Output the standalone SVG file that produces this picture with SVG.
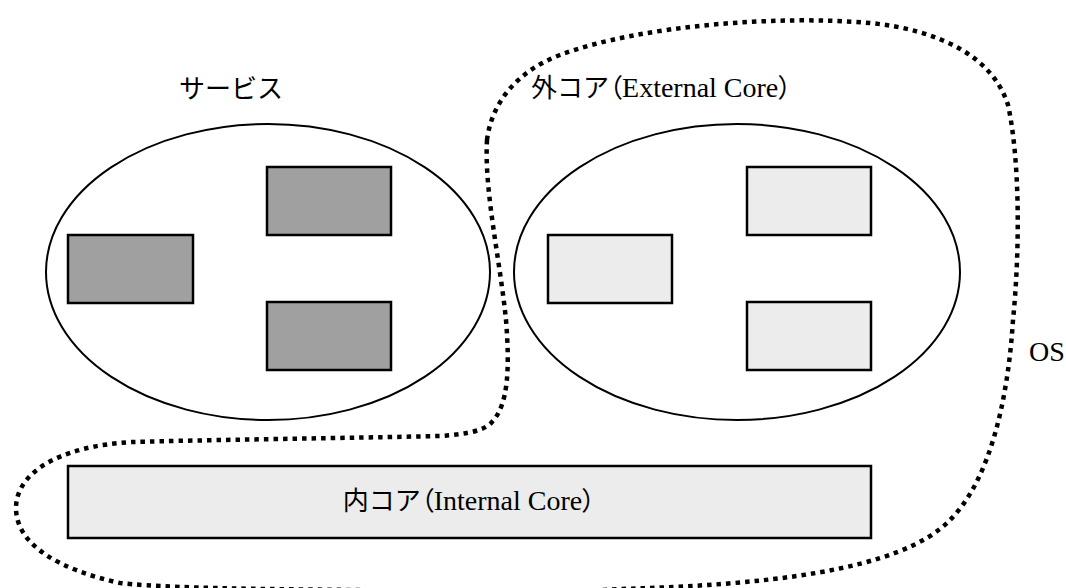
<svg xmlns="http://www.w3.org/2000/svg" width="1066" height="588" viewBox="0 0 1066 588">
<style>
.ell{fill:none;stroke:#000;stroke-width:2}
.dark{fill:#a0a0a0;stroke:#000;stroke-width:2.5}
.light{fill:#ececec;stroke:#000;stroke-width:2.5}
.os{fill:none;stroke:#000;stroke-width:4.5;stroke-dasharray:4.5 5}
.t{font-family:"Liberation Serif","Noto Sans CJK JP",serif;font-size:28px;fill:#000}
.jp{font-family:"Noto Sans CJK JP",sans-serif;font-size:26px}
.p{font-family:"Noto Sans CJK JP",sans-serif;font-size:26px;font-feature-settings:"palt"}
</style>
<rect width="1066" height="588" fill="#fff"/>
<g id="os-boundary">
<path class="os" d="M487,140 C484,190 500,260 506,320 C510,370 508,405 492,422 C485,430 470,434 440,436 C350,438 200,440 133,442 C55,446 16,475 16,508 C16,545 60,570 120,583 C180,590 330,589 420,591 C500,593 560,593 620,589 C760,585 900,572 950,520 C990,480 1008,400 1013,320 C1020,250 1020,160 1008,105 C993,57 940,30 870,23 C780,15 640,25 560,55 C520,70 492,100 487,140 Z"/>
<text class="t" x="1029" y="361">OS</text>
</g>
<g id="services">
<ellipse class="ell" cx="268" cy="272" rx="222" ry="148"/>
<text class="t jp" x="231" y="98" text-anchor="middle">サービス</text>
<rect class="dark" x="267" y="167" width="124" height="68"/>
<rect class="dark" x="68" y="235" width="125" height="68"/>
<rect class="dark" x="267" y="302" width="124" height="68"/>
</g>
<g id="external-core">
<ellipse class="ell" cx="737" cy="272" rx="223" ry="148"/>
<text class="t" x="531" y="97"><tspan class="jp">外コア</tspan><tspan class="p">（</tspan>External Core<tspan class="p">）</tspan></text>
<rect class="light" x="747" y="167" width="124" height="68"/>
<rect class="light" x="548" y="235" width="124" height="68"/>
<rect class="light" x="747" y="302" width="124" height="68"/>
</g>
<g id="internal-core">
<rect class="light" x="68" y="466" width="803" height="72"/>
<text class="t" x="469" y="510" text-anchor="middle"><tspan class="jp">内コア</tspan><tspan class="p">（</tspan>Internal Core<tspan class="p">）</tspan></text>
</g>
<g id="connectors"/>
</svg>
